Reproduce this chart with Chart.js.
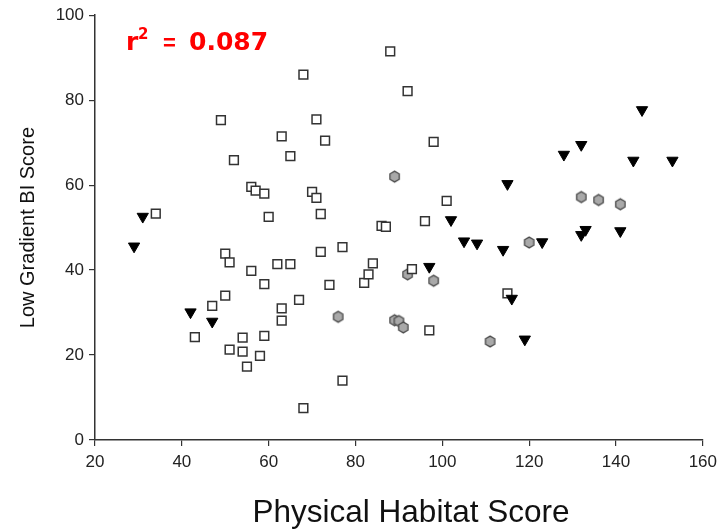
<!DOCTYPE html>
<html>
<head>
<meta charset="UTF-8">
<title>Low Gradient BI vs Physical Habitat</title>
<script src="https://cdn.jsdelivr.net/npm/chart.js"></script>
<style>
  html, body { margin: 0; padding: 0; background: #fff; }
  #wrap { width: 723px; height: 532px; }
</style>
</head>
<body>
<div id="wrap"><canvas id="scatter"></canvas></div>
<script>
// open squares
const squareX = [34, 43, 47, 49, 50, 50, 51, 51, 52, 54, 54, 55, 56, 56, 57, 58, 59, 59, 59, 60,
                 62, 63, 63, 63, 65, 65, 67, 68, 68, 70, 71, 71, 72, 72, 73, 74, 77, 77, 82, 83,
                 84, 86, 87, 88, 92, 93, 96, 97, 98, 101, 115];
const squareY = [53.3, 24.2, 31.6, 75.3, 43.9, 34, 41.8, 21.3, 65.9, 24.1, 20.8, 17.3, 39.8, 59.6, 58.7, 19.8, 58, 36.7, 24.5, 52.5,
                 41.4, 71.5, 31, 28.1, 66.8, 41.4, 33, 86, 7.5, 58.4, 75.5, 57, 53.2, 44.3, 70.5, 36.5, 45.4, 14, 37, 39,
                 41.6, 50.4, 50.2, 91.5, 82.1, 40.2, 51.5, 25.8, 70.2, 56.3, 34.5];

// grey hexagons
const hexX = [76, 89, 89, 90, 91, 92, 98, 111, 120, 132, 136, 141];
const hexY = [29, 62, 28.2, 28, 26.5, 39, 37.5, 23.2, 46.5, 57.2, 56.5, 55.5];

// black down triangles
const triX = [29, 31, 42, 47, 97, 102, 105, 108, 114, 115, 116, 119, 123, 128, 132, 132, 133, 141, 144, 146, 153];
const triY = [45.6, 52.6, 30.1, 27.9, 40.8, 51.8, 46.8, 46.3, 44.8, 60.3, 33.3, 23.7, 46.6, 67.2, 69.5, 48.3, 49.5, 49.2, 65.8, 77.7, 65.8];

const xTicks = [20, 40, 60, 80, 100, 120, 140, 160];
const yTicks = [0, 20, 40, 60, 80, 100];
const rSquared = '0.087';
const xTitle = 'Physical Habitat Score';
const yTitle = 'Low Gradient BI Score';

function pairs(xs, ys) {
  return xs.map((x, i) => ({ x: x, y: ys[i] }));
}

// Chart.js has no hexagon style, so draw one on a small canvas
function hexMarker(r) {
  const size = Math.ceil(r * 2 + 4);
  const c = document.createElement('canvas');
  c.width = size;
  c.height = size;
  const g = c.getContext('2d');
  g.beginPath();
  for (let i = 0; i < 6; i++) {
    const a = -Math.PI / 2 + i * Math.PI / 3;
    const px = size / 2 + r * Math.cos(a);
    const py = size / 2 + r * Math.sin(a);
    if (i === 0) g.moveTo(px, py); else g.lineTo(px, py);
  }
  g.closePath();
  g.fillStyle = '#a9a9a9';
  g.fill();
  g.lineWidth = 1.3;
  g.strokeStyle = '#4a4a4a';
  g.stroke();
  return c;
}

// r-squared note and x axis title
const notes = {
  id: 'notes',
  afterDraw(chart) {
    const ctx = chart.ctx;
    ctx.save();
    ctx.fillStyle = '#ff0000';
    ctx.textBaseline = 'alphabetic';
    ctx.textAlign = 'left';
    ctx.font = 'bold 25px "DejaVu Sans"';
    ctx.fillText('r', 126, 50);
    ctx.font = 'bold 15px "DejaVu Sans"';
    ctx.fillText('2', 138, 39);
    ctx.font = 'bold 22px "Liberation Sans"';
    ctx.fillText('=', 163, 50);
    ctx.font = 'bold 25px "DejaVu Sans"';
    ctx.fillText(rSquared, 189, 50);

    ctx.fillStyle = '#111';
    ctx.textAlign = 'center';
    ctx.textBaseline = 'middle';
    ctx.font = '31.5px "Liberation Sans", Arial, sans-serif';
    ctx.fillText(xTitle, 411, 513);
    ctx.restore();
  }
};

const tickFont = { family: '"Liberation Sans", Arial, sans-serif', size: 17 };

new Chart(document.getElementById('scatter'), {
  type: 'scatter',
  data: {
    datasets: [
      {
        label: 'triangles',
        data: pairs(triX, triY),
        pointStyle: 'triangle',
        rotation: 180,
        radius: 6.5,
        backgroundColor: '#000',
        borderColor: '#000',
        borderWidth: 1
      },
      {
        label: 'squares',
        data: pairs(squareX, squareY),
        pointStyle: 'rect',
        radius: 6.2,
        backgroundColor: '#fff',
        borderColor: '#333',
        borderWidth: 1.5
      },
      {
        label: 'hexagons',
        data: pairs(hexX, hexY),
        pointStyle: hexMarker(5.4)
      }
    ]
  },
  options: {
    responsive: true,
    maintainAspectRatio: false,
    animation: false,
    layout: { padding: { top: 15, right: 19, left: 0, bottom: 0 } },
    plugins: {
      legend: { display: false },
      tooltip: { enabled: false }
    },
    scales: {
      x: {
        type: 'linear',
        min: 20,
        max: 160,
        afterBuildTicks: s => { s.ticks = xTicks.map(v => ({ value: v })); },
        afterFit: s => { s.height = 92; },
        grid: { drawOnChartArea: false, tickLength: 6, color: '#333', lineWidth: 1.2 },
        border: { color: '#333', width: 1.5 },
        ticks: { font: tickFont, color: '#222', padding: 6, maxRotation: 0 }
      },
      y: {
        min: 0,
        max: 100,
        afterBuildTicks: s => { s.ticks = yTicks.map(v => ({ value: v })); },
        afterFit: s => { s.width = 95; },
        grid: { drawOnChartArea: false, tickLength: 6, color: '#333', lineWidth: 1.2 },
        border: { color: '#333', width: 1.5 },
        ticks: { font: tickFont, color: '#222', padding: 5 },
        title: {
          display: true,
          text: yTitle,
          color: '#111',
          font: { family: '"Liberation Sans", Arial, sans-serif', size: 20 },
          padding: { top: 16, bottom: 0 }
        }
      }
    }
  },
  plugins: [notes]
});
</script>
</body>
</html>
